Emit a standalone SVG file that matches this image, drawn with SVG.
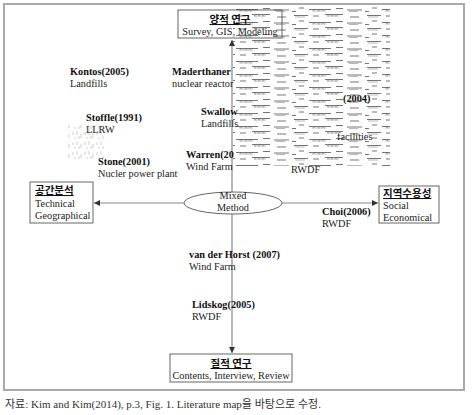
<svg xmlns="http://www.w3.org/2000/svg" width="472" height="415" viewBox="0 0 472 415">
<style>
.t{font-family:"Liberation Serif","Noto Sans CJK KR",serif;font-size:10.3px;fill:#222}
.b{font-weight:bold;fill:#111}
.k{font-family:"Noto Sans CJK KR","Liberation Serif",sans-serif;font-size:10.5px;font-weight:bold;text-decoration:underline;fill:#111}
.box{fill:#fff;stroke:#666;stroke-width:1}
.ln{stroke:#888;stroke-width:1.2;fill:none}
</style>
<defs>
<marker id="ah" viewBox="0 0 6 6" refX="6" refY="3" markerWidth="5" markerHeight="5" orient="auto"><path d="M0,0L6,3L0,6z" fill="#333"/></marker>
<pattern id="noise" width="73" height="13" patternUnits="userSpaceOnUse">
<path d="M2,2.5h14M21,3h6M33,1.5h18M58,4h9M7,8h5M17,9.5h22M44,8.5h7M55,10h15M0,11.5h4" stroke="#333" stroke-width="0.8" fill="none"/>
<path d="M3,4h10M35,3h12M20,11h14M57,11.5h9" stroke="#888" stroke-width="0.7" fill="none"/>
<path d="M36,2v1.5M40,1.5v2M44,2v1.5M22,9v2M27,9.5v2M31,9v2" stroke="#444" stroke-width="0.6"/>
</pattern>
<pattern id="noise2" width="12" height="10" patternUnits="userSpaceOnUse">
<path d="M1,2v3M5,1v4M9,4v4M3,7v2M7,6v3" stroke="#777" stroke-width="0.6"/>
</pattern>
</defs>
<rect x="4" y="4" width="460" height="386" fill="#fff" stroke="#aaa" stroke-width="2"/>

<g id="connectors">
<line class="ln" x1="232" y1="193" x2="232" y2="40" marker-end="url(#ah)"/>
<line class="ln" x1="232" y1="213" x2="232" y2="353" marker-end="url(#ah)"/>
<line class="ln" x1="184" y1="203" x2="94" y2="203" marker-end="url(#ah)"/>
<line class="ln" x1="282" y1="203" x2="378" y2="203" marker-end="url(#ah)"/>
</g>

<g id="quant">
<rect class="box" x="178" y="10" width="104" height="28"/>
<text class="k" x="230" y="23" text-anchor="middle">양적 연구</text>
<text class="t" x="230" y="34.5" text-anchor="middle">Survey, GIS, Modeling</text>
</g>

<g id="qual">
<rect class="box" x="170" y="354" width="122" height="28"/>
<text class="k" x="231" y="367" text-anchor="middle">질적 연구</text>
<text class="t" x="231" y="379" text-anchor="middle">Contents, Interview, Review</text>
</g>

<g id="spatial">
<rect class="box" x="30" y="182" width="63" height="41"/>
<text class="k" x="35" y="194">공간분석</text>
<text class="t" x="35" y="207">Technical</text>
<text class="t" x="35" y="219">Geographical</text>
</g>

<g id="acceptance">
<rect class="box" x="379" y="186" width="60" height="37"/>
<text class="k" x="383" y="197">지역수용성</text>
<text class="t" x="383" y="209">Social</text>
<text class="t" x="383" y="221">Economical</text>
</g>

<g id="mixed">
<ellipse cx="233" cy="203" rx="49" ry="11" fill="#fff" stroke="#666" stroke-width="1"/>
<text class="t" x="233" y="199" text-anchor="middle">Mixed</text>
<text class="t" x="233" y="211" text-anchor="middle">Method</text>
</g>

<g id="labels">
<text class="t b" x="70" y="75">Kontos(2005)</text>
<text class="t" x="70" y="87">Landfills</text>
<text class="t b" x="172" y="75">Maderthaner</text>
<text class="t" x="172" y="87">nuclear reactor</text>
<text class="t b" x="86" y="121">Stoffle(1991)</text>
<text class="t" x="86" y="133">LLRW</text>
<text class="t b" x="201" y="115">Swallow</text>
<text class="t" x="201" y="127">Landfills</text>
<text class="t b" x="186" y="158">Warren(20</text>
<text class="t" x="186" y="170">Wind Farm</text>
<text class="t b" x="98" y="165">Stone(2001)</text>
<text class="t" x="98" y="177">Nucler power plant</text>
<text class="t b" x="322" y="215">Choi(2006)</text>
<text class="t" x="322" y="227">RWDF</text>
<text class="t b" x="189" y="258">van der Horst (2007)</text>
<text class="t" x="189" y="270">Wind Farm</text>
<text class="t b" x="192" y="308">Lidskog(2005)</text>
<text class="t" x="192" y="320">RWDF</text>
<text class="t b" x="343" y="102">(2004)</text>
<text class="t" x="337" y="140">facilities</text>
<text class="t" x="291" y="173">RWDF</text>
</g>

<rect x="233" y="6" width="157" height="160" fill="url(#noise)" opacity="0.85"/>
<rect x="68" y="125" width="36" height="36" fill="url(#noise2)" opacity="0.6"/>

<text x="5" y="408" style="font-family:'Liberation Serif','Noto Sans CJK KR',serif;font-size:11px;fill:#333">자료: Kim and Kim(2014), p.3, Fig. 1. Literature map을 바탕으로 수정.</text>
</svg>
